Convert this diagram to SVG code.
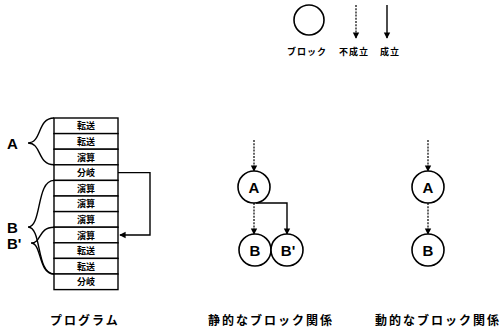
<svg xmlns="http://www.w3.org/2000/svg" width="502" height="330" viewBox="0 0 502 330">
<style>
.ln{fill:none;stroke:#000;stroke-width:1.4}
.dl{fill:none;stroke:#000;stroke-width:1.2;stroke-dasharray:2 1.2}
.nd{fill:#fff;stroke:#000;stroke-width:1.6}
.row{fill:#fff;stroke:#000;stroke-width:1.4}
.rt{font-family:"Noto Sans CJK JP",sans-serif;font-weight:bold;font-size:9px;text-anchor:middle;dominant-baseline:central}
.lt{font-family:"Liberation Sans",Arial,sans-serif;font-weight:bold;font-size:15px;text-anchor:middle;dominant-baseline:central}
.bl{font-family:"Liberation Sans",Arial,sans-serif;font-weight:bold;font-size:15px;dominant-baseline:central}
.cap{font-family:"Noto Sans CJK JP",sans-serif;font-weight:bold;font-size:12px;letter-spacing:2px;dominant-baseline:central}
.lg{font-family:"Noto Sans CJK JP",sans-serif;font-weight:bold;font-size:9px;letter-spacing:1px;dominant-baseline:central}
</style>
<defs>
<marker id="ah" viewBox="0 0 8 10" refX="7" refY="5" markerWidth="7" markerHeight="8" markerUnits="userSpaceOnUse" orient="auto">
<path d="M0,1 L8,5 L0,9 Z" fill="#000"/>
</marker>
</defs>
<rect width="502" height="330" fill="#fff"/>

<g id="legend">
<circle cx="309" cy="20" r="15" class="nd"/>
<line x1="356" y1="5" x2="356" y2="38" class="dl" marker-end="url(#ah)"/>
<line x1="387" y1="5" x2="387" y2="38" class="ln" marker-end="url(#ah)"/>
<text x="287" y="51" class="lg">ブロック</text>
<text x="339" y="51" class="lg">不成立</text>
<text x="380" y="51" class="lg">成立</text>
</g>

<g id="program">
<rect x="54" y="118" width="64" height="15.6" class="row"/>
<rect x="54" y="133.6" width="64" height="15.6" class="row"/>
<rect x="54" y="149.2" width="64" height="15.6" class="row"/>
<rect x="54" y="164.8" width="64" height="15.6" class="row"/>
<rect x="54" y="180.4" width="64" height="15.6" class="row"/>
<rect x="54" y="196" width="64" height="15.6" class="row"/>
<rect x="54" y="211.6" width="64" height="15.6" class="row"/>
<rect x="54" y="227.2" width="64" height="15.6" class="row"/>
<rect x="54" y="242.8" width="64" height="15.6" class="row"/>
<rect x="54" y="258.4" width="64" height="15.6" class="row"/>
<rect x="54" y="274" width="64" height="15.6" class="row"/>
<text x="86" y="125.8" class="rt">転送</text>
<text x="86" y="141.4" class="rt">転送</text>
<text x="86" y="157" class="rt">演算</text>
<text x="86" y="172.6" class="rt">分岐</text>
<text x="86" y="188.2" class="rt">演算</text>
<text x="86" y="203.8" class="rt">演算</text>
<text x="86" y="219.4" class="rt">演算</text>
<text x="86" y="235" class="rt">演算</text>
<text x="86" y="250.6" class="rt">転送</text>
<text x="86" y="266.2" class="rt">転送</text>
<text x="86" y="281.8" class="rt">分岐</text>
<text x="50" y="319" class="cap">プログラム</text>
</g>

<g id="braces">
<path class="ln" d="M54,118 C37,118 42,143 28,143 C42,143 37,164.8 54,164.8"/>
<path class="ln" d="M54,180.4 C36,180.4 42,227 28,227 C42,227 36,274 54,274"/>
<path class="ln" d="M54,227.2 C38,227.2 42,243 31,243 C42,243 38,274 54,274"/>
<text x="7" y="143" class="bl">A</text>
<text x="7" y="227" class="bl">B</text>
<text x="7" y="243" class="bl">B'</text>
</g>

<g id="connectors">
<polyline class="ln" points="118,172.6 150,172.6 150,235 120,235" marker-end="url(#ah)"/>
<line x1="254" y1="140" x2="254" y2="171" class="dl" marker-end="url(#ah)"/>
<line x1="254" y1="203" x2="254" y2="234" class="dl" marker-end="url(#ah)"/>
<polyline class="ln" points="256,203 287,203 287,234" marker-end="url(#ah)"/>
<line x1="428" y1="140" x2="428" y2="171" class="dl" marker-end="url(#ah)"/>
<line x1="428" y1="203" x2="428" y2="234" class="dl" marker-end="url(#ah)"/>
</g>

<g id="static">
<g id="sA"><circle cx="254" cy="187" r="16" class="nd"/><text x="254" y="187" class="lt">A</text></g>
<g id="sB"><circle cx="255" cy="250" r="16" class="nd"/><text x="255" y="250" class="lt">B</text></g>
<g id="sB2"><circle cx="287" cy="250" r="16" class="nd"/><text x="288" y="250" class="lt">B'</text></g>
<text x="208" y="319" class="cap">静的なブロック関係</text>
</g>

<g id="dynamic">
<g id="dA"><circle cx="428" cy="187" r="16" class="nd"/><text x="428" y="187" class="lt">A</text></g>
<g id="dB"><circle cx="428" cy="250" r="16" class="nd"/><text x="428" y="250" class="lt">B</text></g>
<text x="375" y="319" class="cap">動的なブロック関係</text>
</g>
</svg>
